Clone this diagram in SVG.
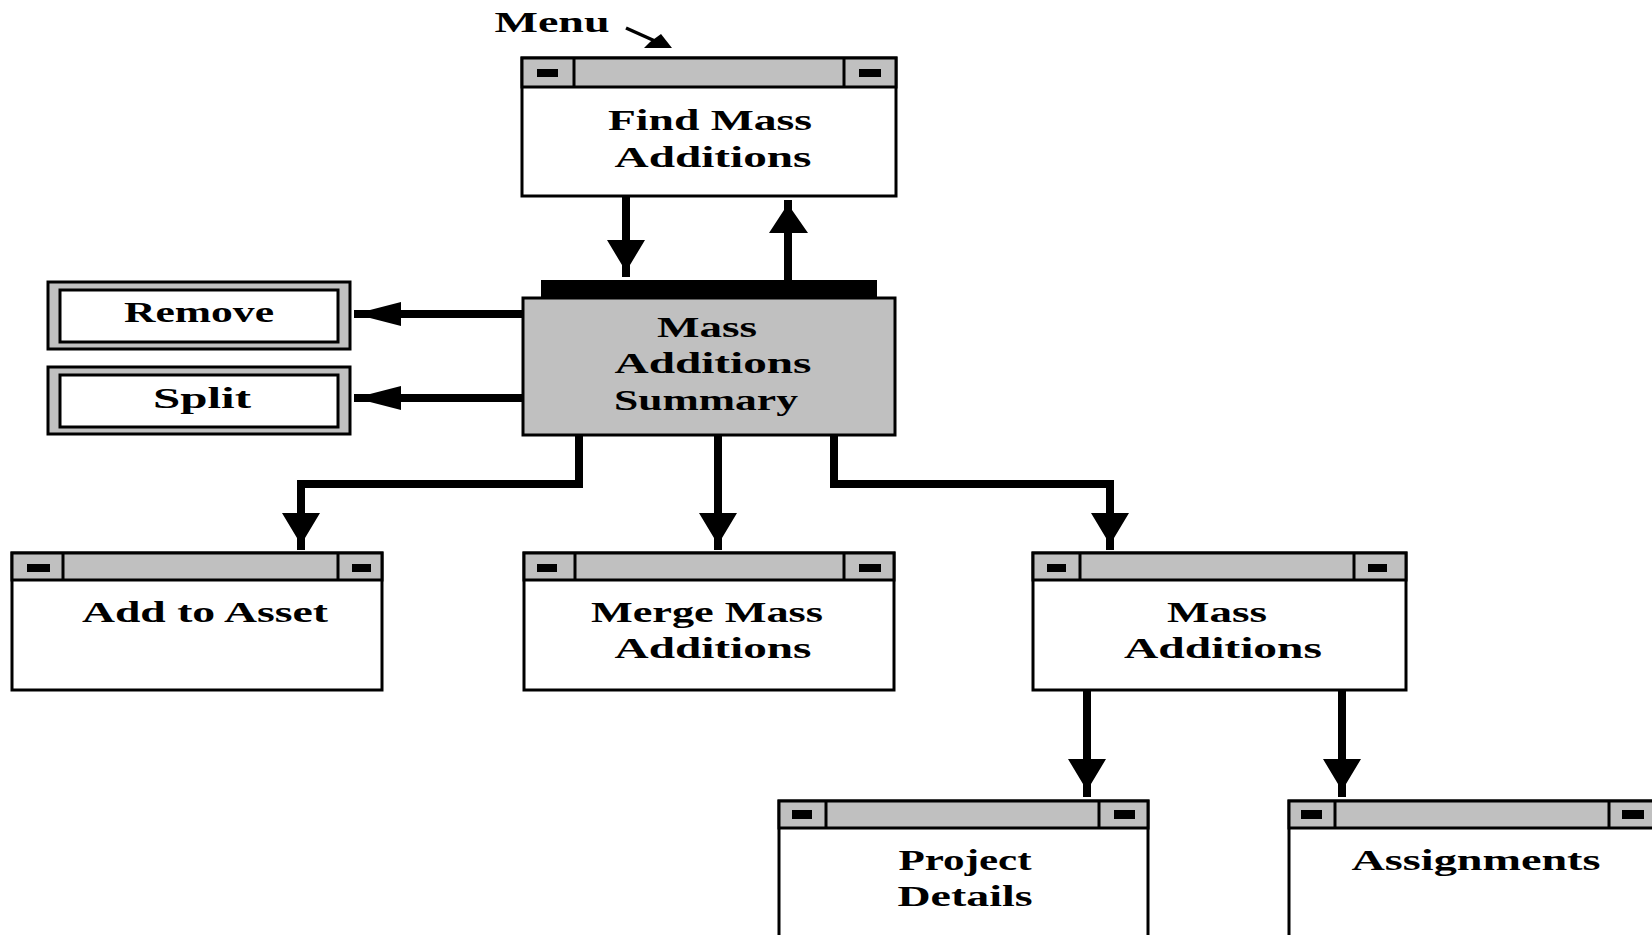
<svg xmlns="http://www.w3.org/2000/svg" width="1652" height="935" viewBox="0 0 1652 935">
<style>
.win{fill:#fff;stroke:#000;stroke-width:3}
.bar{fill:#c0c0c0;stroke:#000;stroke-width:3}
.btn{fill:#000}
.sum{fill:#c0c0c0;stroke:#000;stroke-width:3}
.t{font-family:"Liberation Serif","Times New Roman",serif;font-weight:bold;font-size:30px;fill:#000;text-anchor:middle}
.c{fill:none;stroke:#000;stroke-width:8;stroke-linejoin:miter;stroke-linecap:butt}
.h{fill:#000}
</style>
<rect width="1652" height="935" fill="#fff"/>

<g id="menu">
<text class="t" x="552" y="32" textLength="115" lengthAdjust="spacingAndGlyphs">Menu</text>
<line x1="626" y1="28" x2="655" y2="41" stroke="#000" stroke-width="3.5"/>
<polygon class="h" points="672,48 644,48 650,42 661,34"/>
</g>

<g id="find">
<rect class="win" x="522" y="58" width="374" height="138"/>
<rect class="bar" x="522" y="58" width="374" height="29"/>
<line x1="574" y1="58" x2="574" y2="87" stroke="#000" stroke-width="3"/>
<line x1="844" y1="58" x2="844" y2="87" stroke="#000" stroke-width="3"/>
<rect class="btn" x="537" y="69" width="21" height="8"/>
<rect class="btn" x="859" y="69" width="22" height="8"/>
<text class="t" x="710" y="130" textLength="204" lengthAdjust="spacingAndGlyphs">Find Mass</text>
<text class="t" x="713" y="167" textLength="197" lengthAdjust="spacingAndGlyphs">Additions</text>
</g>

<g id="summary">
<rect x="541" y="280" width="336" height="18" fill="#000"/>
<rect class="sum" x="523" y="298" width="372" height="137"/>
<text class="t" x="707" y="337" textLength="100" lengthAdjust="spacingAndGlyphs">Mass</text>
<text class="t" x="713" y="373" textLength="197" lengthAdjust="spacingAndGlyphs">Additions</text>
<text class="t" x="706" y="410" textLength="184" lengthAdjust="spacingAndGlyphs">Summary</text>
</g>

<g id="remove">
<rect x="48" y="282" width="302" height="67" fill="#c0c0c0" stroke="#000" stroke-width="3"/>
<rect x="60" y="290" width="278" height="52" fill="#fff" stroke="#000" stroke-width="3"/>
<text class="t" x="199" y="322" textLength="150" lengthAdjust="spacingAndGlyphs">Remove</text>
</g>

<g id="split">
<rect x="48" y="367" width="302" height="67" fill="#c0c0c0" stroke="#000" stroke-width="3"/>
<rect x="60" y="375" width="278" height="52" fill="#fff" stroke="#000" stroke-width="3"/>
<text class="t" x="202" y="408" textLength="98" lengthAdjust="spacingAndGlyphs">Split</text>
</g>

<g id="add-to-asset">
<rect class="win" x="12" y="553" width="370" height="137"/>
<rect class="bar" x="12" y="553" width="370" height="27"/>
<line x1="63" y1="553" x2="63" y2="580" stroke="#000" stroke-width="3"/>
<line x1="338" y1="553" x2="338" y2="580" stroke="#000" stroke-width="3"/>
<rect class="btn" x="27" y="564" width="23" height="8"/>
<rect class="btn" x="352" y="564" width="19" height="8"/>
<text class="t" x="205" y="622" textLength="246" lengthAdjust="spacingAndGlyphs">Add to Asset</text>
</g>

<g id="merge">
<rect class="win" x="524" y="553" width="370" height="137"/>
<rect class="bar" x="524" y="553" width="370" height="27"/>
<line x1="575" y1="553" x2="575" y2="580" stroke="#000" stroke-width="3"/>
<line x1="844" y1="553" x2="844" y2="580" stroke="#000" stroke-width="3"/>
<rect class="btn" x="537" y="564" width="20" height="8"/>
<rect class="btn" x="859" y="564" width="22" height="8"/>
<text class="t" x="707" y="622" textLength="232" lengthAdjust="spacingAndGlyphs">Merge Mass</text>
<text class="t" x="713" y="658" textLength="197" lengthAdjust="spacingAndGlyphs">Additions</text>
</g>

<g id="mass-additions">
<rect class="win" x="1033" y="553" width="373" height="137"/>
<rect class="bar" x="1033" y="553" width="373" height="27"/>
<line x1="1080" y1="553" x2="1080" y2="580" stroke="#000" stroke-width="3"/>
<line x1="1354" y1="553" x2="1354" y2="580" stroke="#000" stroke-width="3"/>
<rect class="btn" x="1047" y="564" width="19" height="8"/>
<rect class="btn" x="1368" y="564" width="19" height="8"/>
<text class="t" x="1217" y="622" textLength="100" lengthAdjust="spacingAndGlyphs">Mass</text>
<text class="t" x="1223" y="658" textLength="198" lengthAdjust="spacingAndGlyphs">Additions</text>
</g>

<g id="project-details">
<rect class="win" x="779" y="801" width="369" height="150"/>
<rect class="bar" x="779" y="801" width="369" height="27"/>
<line x1="826" y1="801" x2="826" y2="828" stroke="#000" stroke-width="3"/>
<line x1="1099" y1="801" x2="1099" y2="828" stroke="#000" stroke-width="3"/>
<rect class="btn" x="792" y="810" width="20" height="9"/>
<rect class="btn" x="1114" y="810" width="21" height="9"/>
<text class="t" x="965" y="870" textLength="133" lengthAdjust="spacingAndGlyphs">Project</text>
<text class="t" x="965" y="906" textLength="135" lengthAdjust="spacingAndGlyphs">Details</text>
</g>

<g id="assignments">
<rect class="win" x="1289" y="801" width="380" height="150"/>
<rect class="bar" x="1289" y="801" width="380" height="27"/>
<line x1="1335" y1="801" x2="1335" y2="828" stroke="#000" stroke-width="3"/>
<line x1="1609" y1="801" x2="1609" y2="828" stroke="#000" stroke-width="3"/>
<rect class="btn" x="1301" y="810" width="21" height="9"/>
<rect class="btn" x="1622" y="810" width="22" height="9"/>
<text class="t" x="1476" y="870" textLength="249" lengthAdjust="spacingAndGlyphs">Assignments</text>
</g>

<g id="connectors">
<path class="c" d="M626,196 V242"/>
<polygon class="h" points="607,240 645,240 630,265 630,277 622,277 622,265"/>
<path class="c" d="M788,280 V230"/>
<polygon class="h" points="769,233 808,233 792,210 792,200 784,200 784,210"/>
<path class="c" d="M523,314 H395"/>
<polygon class="h" points="401,302 401,326 370,318 354,318 354,310 370,310"/>
<path class="c" d="M523,398 H395"/>
<polygon class="h" points="401,386 401,410 370,402 354,402 354,394 370,394"/>
<path class="c" d="M579,435 V484 H301 V516"/>
<polygon class="h" points="282,513 320,513 305,538 305,550 297,550 297,538"/>
<path class="c" d="M718,435 V516"/>
<polygon class="h" points="699,513 737,513 722,538 722,550 714,550 714,538"/>
<path class="c" d="M834,435 V484 H1110 V516"/>
<polygon class="h" points="1091,513 1129,513 1114,538 1114,550 1106,550 1106,538"/>
<path class="c" d="M1087,690 V762"/>
<polygon class="h" points="1068,759 1106,759 1091,784 1091,797 1083,797 1083,784"/>
<path class="c" d="M1342,690 V762"/>
<polygon class="h" points="1323,759 1361,759 1346,784 1346,797 1338,797 1338,784"/>
</g>
</svg>
